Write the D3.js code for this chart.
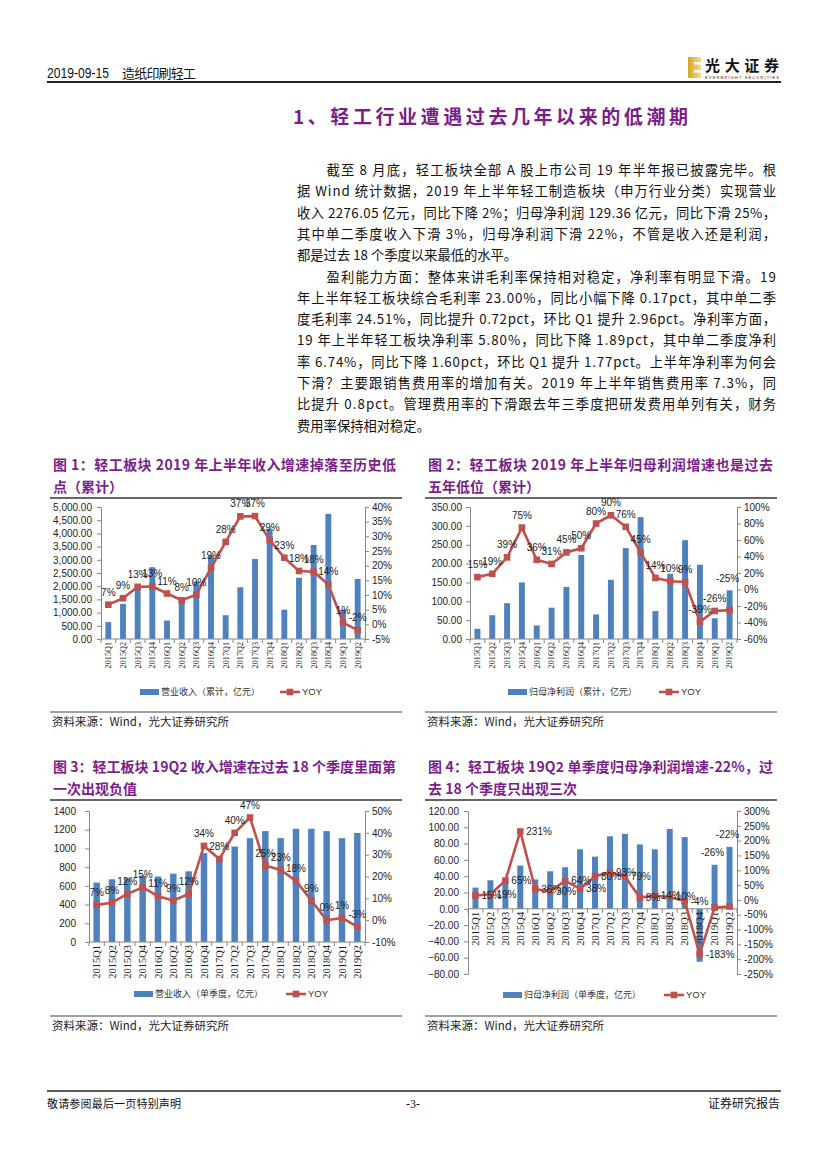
<!DOCTYPE html>
<html><head><meta charset="utf-8">
<script src="https://cdn.jsdelivr.net/npm/d3@7"></script>
<style>body{margin:0;background:#fff} svg{display:block}</style>
</head><body>
<svg id="page" width="827" height="1169"></svg>
<script>
// ---------------- DATA ----------------
const quarters = ["2015Q1","2015Q2","2015Q3","2015Q4","2016Q1","2016Q2","2016Q3","2016Q4","2017Q1","2017Q2","2017Q3","2017Q4","2018Q1","2018Q2","2018Q3","2018Q4","2019Q1","2019Q2"];
// Fig 1: cumulative revenue (亿元) & YOY (%)
const revCum    = [640,1330,2010,2720,700,1430,2180,3170,900,1960,3030,4180,1110,2320,3560,4740,1110,2276];
const revCumYoy = [6.7,8.9,12.8,12.9,10.5,8.2,10.1,19.2,28.1,36.8,36.9,28.7,22.7,18.2,17.9,13.6,0.6,-2.0];
// Fig 2: cumulative net profit (亿元) & YOY (%)
const npCum     = [27,63,95,150,36,83,138,223,65,157,241,323,74,173,262,197,55,129];
const npCumYoy  = [15,19,39,75,36,31,45,50,80,90,76,45,14,10,9,-39,-26,-25];
// Fig 3: single-quarter revenue (亿元) & YOY (%)
const revQ      = [635,670,680,710,700,730,755,950,890,1020,1110,1185,1110,1210,1210,1185,1110,1165];
const revQYoy   = [7,8,12,15,11,9,12,34,28,40,47,25,23,18,9,0,1,-3];
// Fig 4: single-quarter net profit (亿元) & YOY (%)
const npQ       = [26,35,33,53,36,46,51,73,64,89,92,79,73,98,88,-65,54,76];
const npQYoy    = [15,19,65,231,36,30,64,38,80,93,79,8,14,10,-4,-183,-26,-22];

const paragraphLines = [
  ["截至 8 月底，轻工板块全部 A 股上市公司 19 年半年报已披露完毕。根", true, true],
  ["据 Wind 统计数据，2019 年上半年轻工制造板块（申万行业分类）实现营业", false, true],
  ["收入 2276.05 亿元，同比下降 2%；归母净利润 129.36 亿元，同比下滑 25%，", false, true],
  ["其中单二季度收入下滑 3%，归母净利润下滑 22%，不管是收入还是利润，", false, true],
  ["都是过去 18 个季度以来最低的水平。", false, false],
  ["盈利能力方面：整体来讲毛利率保持相对稳定，净利率有明显下滑。19", true, true],
  ["年上半年轻工板块综合毛利率 23.00%，同比小幅下降 0.17pct，其中单二季", false, true],
  ["度毛利率 24.51%，同比提升 0.72pct，环比 Q1 提升 2.96pct。净利率方面，", false, true],
  ["19 年上半年轻工板块净利率 5.80%，同比下降 1.89pct，其中单二季度净利", false, true],
  ["率 6.74%，同比下降 1.60pct，环比 Q1 提升 1.77pct。上半年净利率为何会", false, true],
  ["下滑？主要跟销售费用率的增加有关。2019 年上半年销售费用率 7.3%，同", false, true],
  ["比提升 0.8pct。管理费用率的下滑跟去年三季度把研发费用单列有关，财务", false, true],
  ["费用率保持相对稳定。", false, false]
];

// ---------------- PAGE ----------------
const svg = d3.select("#page");
const CJK = "'Noto Sans CJK SC','Noto Sans',sans-serif";
const SANS = "'Liberation Sans',Arial,sans-serif";
const SERIF = "'Liberation Serif','Times New Roman',serif";
const PURPLE = "#7a1f8a";
const BLUE = "#4f81bd";
const RED = "#c0504d";

// header
svg.append("text").attr("x",47).attr("y",78).attr("font-family",SANS).attr("font-size",14).attr("fill","#111")
  .attr("textLength",62).attr("lengthAdjust","spacingAndGlyphs").text("2019-09-15");
svg.append("text").attr("x",122).attr("y",78).attr("font-family",CJK).attr("font-size",13).attr("fill","#111")
  .attr("textLength",74).text("造纸印刷轻工");
svg.append("line").attr("x1",47).attr("x2",781).attr("y1",82).attr("y2",82).attr("stroke","#222").attr("stroke-width",1.8);
// logo
const lg = svg.append("g");
const grad = svg.append("defs").append("linearGradient").attr("id","gold").attr("x1",0).attr("x2",1).attr("y1",0).attr("y2",0);
grad.append("stop").attr("offset","0%").attr("stop-color","#d9a421");
grad.append("stop").attr("offset","100%").attr("stop-color","#f3dc92");
lg.append("rect").attr("x",688).attr("y",57).attr("width",13).attr("height",21).attr("fill","url(#gold)");
lg.append("rect").attr("x",694).attr("y",62).attr("width",7).attr("height",2.5).attr("fill","#fff");
lg.append("rect").attr("x",694).attr("y",70).attr("width",7).attr("height",2.5).attr("fill","#fff");
lg.append("text").attr("x",705).attr("y",71).attr("font-family",CJK).attr("font-weight","bold").attr("font-size",15).attr("fill","#111").attr("textLength",74).text("光大证券");
lg.append("text").attr("x",705).attr("y",78.5).attr("font-family",SANS).attr("font-size",4).attr("fill","#222").attr("textLength",74).text("EVERBRIGHT SECURITIES");

// section heading
svg.append("text").attr("x",293).attr("y",124).attr("font-family",CJK).attr("font-weight","bold").attr("font-size",19)
  .attr("fill",PURPLE).attr("textLength",395).attr("lengthAdjust","spacing").text("1、轻工行业遭遇过去几年以来的低潮期");

// paragraph
paragraphLines.forEach((ln,i)=>{
  const x = ln[1] ? 326.5 : 297;
  const t = svg.append("text").attr("x",x).attr("y",175 + i*21.3).attr("font-family",CJK).attr("font-size",13.3).attr("fill","#111").text(ln[0]);
  if (ln[2]) t.attr("textLength",776 - x).attr("lengthAdjust","spacing");
});

// footer
svg.append("line").attr("x1",47).attr("x2",781).attr("y1",1091).attr("y2",1091).attr("stroke","#222").attr("stroke-width",1.5);
svg.append("text").attr("x",47).attr("y",1108).attr("font-family",CJK).attr("font-size",11).attr("fill","#111").attr("textLength",134).text("敬请参阅最后一页特别声明");
svg.append("text").attr("x",413).attr("y",1108).attr("text-anchor","middle").attr("font-family",SERIF).attr("font-size",12).attr("fill","#111").text("-3-");
svg.append("text").attr("x",780).attr("y",1108).attr("text-anchor","end").attr("font-family",CJK).attr("font-size",12).attr("fill","#111").text("证券研究报告");

// ---------------- CHART FUNCTION ----------------
function drawChart(o) {
  const g = svg.append("g");
  // titles
  g.append("text").attr("x",o.fx+3).attr("y",o.titleY).attr("font-family",CJK).attr("font-weight","bold").attr("font-size",14)
    .attr("fill",PURPLE).attr("textLength",o.titleLen).attr("lengthAdjust","spacing").text(o.title1);
  g.append("text").attr("x",o.fx+3).attr("y",o.titleY+22).attr("font-family",CJK).attr("font-weight","bold").attr("font-size",14)
    .attr("fill",PURPLE).text(o.title2);
  g.append("line").attr("x1",o.fx).attr("x2",o.fx+352).attr("y1",o.titleY+28).attr("y2",o.titleY+28).attr("stroke","#333").attr("stroke-width",1.5);
  g.append("line").attr("x1",o.fx).attr("x2",o.fx+352).attr("y1",o.bottomY).attr("y2",o.bottomY).attr("stroke","#444").attr("stroke-width",1.2);
  g.append("text").attr("x",o.fx+2).attr("y",o.bottomY+14).attr("font-family",CJK).attr("font-size",11.5).attr("fill","#222").text("资料来源：Wind，光大证券研究所");

  const x = d3.scaleBand().domain(quarters).range([o.x0,o.x1]).padding(0);
  const yL = d3.scaleLinear().domain(o.leftDomain).range([o.yBot,o.yTop]);
  const yR = d3.scaleLinear().domain(o.rightDomain).range([o.yBot,o.yTop]);
  const bw = x.bandwidth()*o.barFrac;

  // bars
  g.append("g").selectAll("rect").data(o.bars).join("rect")
    .attr("x",(d,i)=>x(quarters[i])+x.bandwidth()/2-bw/2)
    .attr("y",d=>yL(Math.max(0,d)))
    .attr("width",bw)
    .attr("height",d=>Math.abs(yL(d)-yL(0)))
    .attr("fill",BLUE);

  // left axis
  const lt = d3.range(o.leftDomain[0],o.leftDomain[1]+o.leftStep/2,o.leftStep);
  const la = g.append("g").attr("transform",`translate(${o.x0},0)`)
    .call(d3.axisLeft(yL).tickValues(lt).tickFormat(o.leftFmt).tickSize(4).tickSizeOuter(0).tickPadding(o.lpad));
  // right axis
  const rt = d3.range(o.rightDomain[0],o.rightDomain[1]+o.rightStep/2,o.rightStep);
  const ra = g.append("g").attr("transform",`translate(${o.x1},0)`)
    .call(d3.axisRight(yR).tickValues(rt).tickFormat(d=>Math.round(d*100)+"%").tickSize(4).tickSizeOuter(0).tickPadding(3));
  [la,ra].forEach(a=>{
    a.selectAll("path,line").attr("stroke","#868686");
    a.selectAll("text").attr("font-family",SANS).attr("font-size",o.tickFont).attr("fill","#222");
  });
  // x axis line at zero
  const y0 = yL(0);
  g.append("line").attr("x1",o.x0).attr("x2",o.x1).attr("y1",y0).attr("y2",y0).attr("stroke","#868686");
  g.append("g").selectAll("line").data(quarters.concat(["end"])).join("line")
    .attr("x1",(d,i)=>o.x0+i*x.bandwidth()).attr("x2",(d,i)=>o.x0+i*x.bandwidth())
    .attr("y1",y0).attr("y2",y0+4).attr("stroke","#868686");
  g.append("g").selectAll("text").data(quarters).join("text")
    .attr("transform",d=>`translate(${x(d)+x.bandwidth()/2},${y0+3}) rotate(-90)`)
    .attr("text-anchor","end").attr("dy","0.35em")
    .attr("font-family",SERIF).attr("font-size",o.xFont).attr("fill","#222").text(d=>d);

  // line
  const pts = o.yoy.map((v,i)=>[x(quarters[i])+x.bandwidth()/2, yR(v/100)]);
  g.append("path").attr("d",d3.line()(pts)).attr("fill","none").attr("stroke",RED).attr("stroke-width",2.6).attr("stroke-linejoin","round");
  g.append("g").selectAll("rect").data(pts).join("rect")
    .attr("x",d=>d[0]-3.3).attr("y",d=>d[1]-3.3).attr("width",6.6).attr("height",6.6).attr("fill",RED);

  // data labels
  g.append("g").selectAll("text").data(o.yoy).join("text")
    .each(function(v,i){
      const t = d3.select(this);
      const p = pts[i];
      const mode = o.labelMode(i);
      if (mode==="right") {
        t.attr("x",p[0]+6).attr("y",p[1]).attr("dy","0.35em").attr("text-anchor","start");
      } else if (mode==="bar") {
        t.attr("x",p[0]-2).attr("y",yL(o.bars[i])-12).attr("dy","0.35em").attr("text-anchor","middle");
      } else {
        t.attr("x",p[0]).attr("y",p[1]-9).attr("text-anchor","middle");
      }
    })
    .attr("font-family",SANS).attr("font-size",o.labelFont).attr("fill","#222").text(v=>Math.round(v)+"%");

  // legend
  const ly = o.legendY;
  g.append("rect").attr("x",o.legX).attr("y",ly-3).attr("width",19).attr("height",6).attr("fill",BLUE);
  g.append("text").attr("x",o.legX+21).attr("y",ly).attr("dy","0.35em").attr("font-family",CJK).attr("font-size",9).attr("fill","#333").text(o.legendText);
  g.append("line").attr("x1",o.legX2).attr("x2",o.legX2+20).attr("y1",ly).attr("y2",ly).attr("stroke",RED).attr("stroke-width",2.6);
  g.append("rect").attr("x",o.legX2+6.7).attr("y",ly-3.3).attr("width",6.6).attr("height",6.6).attr("fill",RED);
  g.append("text").attr("x",o.legX2+22).attr("y",ly).attr("dy","0.35em").attr("font-family",SANS).attr("font-size",9.5).attr("fill","#333").text("YOY");
}

drawChart({
  fx:50, titleY:470, titleLen:343, bottomY:712,
  title1:"图 1：轻工板块 2019 年上半年收入增速掉落至历史低", title2:"点（累计）",
  x0:101, x1:365, yTop:507, yBot:639,
  leftDomain:[0,5000], leftStep:500, leftFmt:d3.format(",.2f"), lpad:5,
  rightDomain:[-0.05,0.40], rightStep:0.05,
  bars:revCum, yoy:revCumYoy, barFrac:0.4, labelMode:()=>"above",
  tickFont:10, xFont:8.2, labelFont:10,
  legendY:692, legX:140, legX2:280, legendText:"营业收入（累计，亿元）"
});
drawChart({
  fx:425, titleY:470, titleLen:345, bottomY:712,
  title1:"图 2：轻工板块 2019 年上半年归母利润增速也是过去", title2:"五年低位（累计）",
  x0:470, x1:737, yTop:507, yBot:639,
  leftDomain:[0,350], leftStep:50, leftFmt:d3.format(".2f"), lpad:4,
  rightDomain:[-0.6,1.0], rightStep:0.2,
  bars:npCum, yoy:npCumYoy, barFrac:0.4, labelMode:i=>(i===17?"bar":"above"),
  tickFont:10, xFont:8.2, labelFont:10,
  legendY:692, legX:508, legX2:659, legendText:"归母净利润（累计，亿元）"
});
drawChart({
  fx:50, titleY:772, titleLen:343, bottomY:1016,
  title1:"图 3：轻工板块 19Q2 收入增速在过去 18 个季度里面第", title2:"一次出现负值",
  x0:89, x1:365, yTop:811, yBot:942,
  leftDomain:[0,1400], leftStep:200, leftFmt:d3.format("d"), lpad:9,
  rightDomain:[-0.1,0.5], rightStep:0.1,
  bars:revQ, yoy:revQYoy, barFrac:0.42, labelMode:()=>"above",
  tickFont:10, xFont:10.5, labelFont:10,
  legendY:994, legX:134, legX2:286, legendText:"营业收入（单季度，亿元）"
});
drawChart({
  fx:425, titleY:772, titleLen:345, bottomY:1016,
  title1:"图 4：轻工板块 19Q2 单季度归母净利润增速-22%，过", title2:"去 18 个季度只出现三次",
  x0:468, x1:737, yTop:811, yBot:974,
  leftDomain:[-80,120], leftStep:20, leftFmt:d3.format(".2f"), lpad:5,
  rightDomain:[-2.5,3.0], rightStep:0.5,
  bars:npQ, yoy:npQYoy, barFrac:0.4, labelMode:i=>(i>=16?"bar":"right"),
  tickFont:10, xFont:10.5, labelFont:10,
  legendY:995, legX:503, legX2:664, legendText:"归母净利润（单季度，亿元）"
});
</script>
</body></html>
